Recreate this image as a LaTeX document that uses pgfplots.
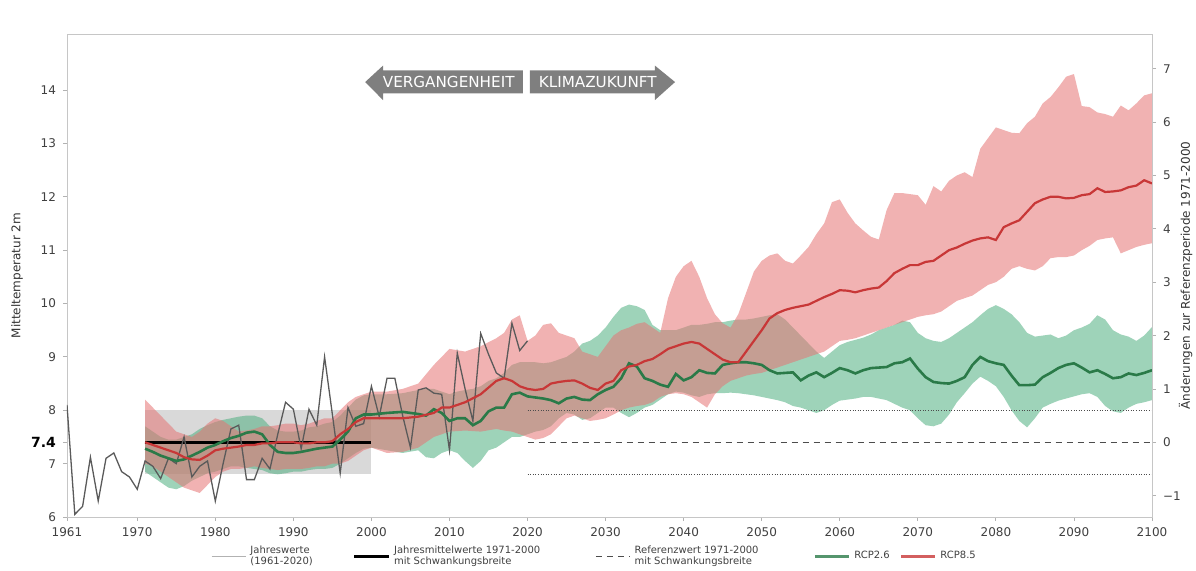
\documentclass[border=0pt]{standalone}
\usepackage{pgfplots}
\pgfplotsset{compat=1.18}
\usepackage{pgfplotstable}
\usepgfplotslibrary{fillbetween}
\usepackage{fontspec}
\setmainfont{DejaVu Sans}
\definecolor{gline}{HTML}{2A7A48}
\definecolor{gband}{HTML}{4FAF80}
\definecolor{rline}{HTML}{C83737}
\definecolor{rband}{HTML}{E57373}
\definecolor{arrowgray}{HTML}{7F7F7F}
\definecolor{annual}{HTML}{5A5A5A}

\pgfplotstableread{
year val
1961 8.10
1962 6.05
1963 6.20
1964 7.12
1965 6.30
1966 7.10
1967 7.20
1968 6.85
1969 6.75
1970 6.52
1971 7.05
1972 6.95
1973 6.72
1974 7.10
1975 7.00
1976 7.50
1977 6.75
1978 6.95
1979 7.05
1980 6.30
1981 7.00
1982 7.65
1983 7.72
1984 6.70
1985 6.70
1986 7.10
1987 6.90
1988 7.55
1989 8.15
1990 8.02
1991 7.28
1992 8.02
1993 7.72
1994 9.00
1995 7.92
1996 6.82
1997 8.05
1998 7.70
1999 7.75
2000 8.45
2001 7.88
2002 8.60
2003 8.60
2004 7.90
2005 7.30
2006 8.38
2007 8.42
2008 8.32
2009 8.30
2010 7.25
2011 9.07
2012 8.40
2013 7.80
2014 9.44
2015 9.05
2016 8.70
2017 8.60
2018 9.63
2019 9.12
2020 9.30
}\annualtab

\pgfplotstableread{
year mean lo hi
1971 7.40 7.00 8.20
1972 7.35 6.95 8.05
1973 7.30 6.85 7.90
1974 7.25 6.75 7.75
1975 7.20 6.65 7.60
1976 7.12 6.55 7.55
1977 7.08 6.50 7.50
1978 7.07 6.45 7.60
1979 7.15 6.60 7.75
1980 7.25 6.75 7.85
1981 7.28 6.85 7.80
1982 7.30 6.90 7.70
1983 7.32 6.90 7.60
1984 7.35 6.92 7.62
1985 7.35 6.95 7.65
1986 7.38 6.92 7.70
1987 7.38 6.90 7.70
1988 7.40 6.88 7.72
1989 7.40 6.90 7.75
1990 7.40 6.90 7.75
1991 7.38 6.90 7.72
1992 7.38 6.92 7.75
1993 7.40 6.95 7.80
1994 7.40 6.95 7.85
1995 7.42 7.00 7.85
1996 7.55 7.00 8.00
1997 7.65 7.05 8.15
1998 7.78 7.15 8.25
1999 7.85 7.25 8.30
2000 7.85 7.30 8.35
2002 7.85 7.20 8.35
2004 7.85 7.22 8.40
2006 7.88 7.30 8.50
2008 7.95 7.50 8.85
2009 8.05 7.55 9.00
2010 8.05 7.60 9.15
2012 8.15 7.62 9.10
2014 8.30 7.60 9.20
2016 8.55 7.65 9.35
2017 8.60 7.62 9.45
2018 8.55 7.60 9.70
2019 8.45 7.55 9.78
2020 8.40 7.50 9.30
2021 8.38 7.45 9.40
2022 8.40 7.48 9.60
2023 8.50 7.55 9.63
2024 8.53 7.70 9.45
2025 8.55 7.85 9.40
2026 8.56 7.90 9.35
2027 8.50 7.85 9.10
2028 8.42 7.80 9.05
2029 8.38 7.82 9.00
2030 8.50 7.85 9.20
2031 8.55 7.92 9.40
2032 8.75 8.00 9.50
2033 8.82 8.05 9.55
2034 8.85 8.08 9.62
2035 8.92 8.10 9.65
2036 8.96 8.15 9.55
2037 9.05 8.25 9.45
2038 9.15 8.30 10.10
2039 9.20 8.32 10.50
2040 9.25 8.30 10.70
2041 9.28 8.25 10.80
2042 9.25 8.15 10.50
2043 9.15 8.05 10.10
2044 9.05 8.30 9.80
2045 8.95 8.45 9.63
2046 8.90 8.55 9.55
2047 8.90 8.60 9.80
2048 9.10 8.65 10.20
2049 9.30 8.68 10.60
2050 9.50 8.70 10.80
2051 9.72 8.75 10.90
2052 9.82 8.80 10.94
2053 9.88 8.85 10.80
2054 9.92 8.90 10.75
2055 9.95 8.95 10.90
2056 9.98 9.00 11.06
2057 10.05 9.05 11.30
2058 10.12 9.10 11.50
2059 10.18 9.20 11.90
2060 10.25 9.30 11.95
2061 10.24 9.32 11.70
2062 10.21 9.35 11.50
2063 10.25 9.40 11.37
2064 10.28 9.45 11.25
2065 10.30 9.50 11.20
2066 10.42 9.55 11.75
2067 10.57 9.60 12.07
2068 10.65 9.65 12.07
2069 10.72 9.70 12.05
2070 10.72 9.75 12.03
2071 10.78 9.78 11.85
2072 10.80 9.80 12.20
2073 10.90 9.85 12.10
2074 11.00 9.95 12.30
2075 11.05 10.05 12.40
2076 11.12 10.10 12.46
2077 11.18 10.15 12.37
2078 11.22 10.25 12.90
2079 11.24 10.35 13.10
2080 11.19 10.40 13.30
2081 11.43 10.50 13.25
2082 11.50 10.65 13.20
2083 11.56 10.70 13.19
2084 11.72 10.65 13.38
2085 11.88 10.62 13.50
2086 11.95 10.70 13.75
2087 12.00 10.85 13.87
2088 12.00 10.87 14.05
2089 11.97 10.87 14.25
2090 11.98 10.90 14.30
2091 12.03 11.00 13.70
2092 12.05 11.08 13.68
2093 12.16 11.19 13.58
2094 12.09 11.22 13.55
2095 12.10 11.24 13.50
2096 12.12 10.94 13.71
2097 12.18 11.00 13.62
2098 12.21 11.06 13.75
2099 12.31 11.10 13.90
2100 12.25 11.13 13.94
}\rcphigh

\pgfplotstableread{
year mean lo hi
1971 7.28 6.85 7.70
1972 7.22 6.75 7.60
1973 7.15 6.65 7.50
1974 7.10 6.55 7.45
1975 7.05 6.52 7.45
1976 7.08 6.58 7.50
1977 7.15 6.68 7.55
1978 7.22 6.75 7.65
1979 7.30 6.82 7.72
1980 7.35 6.85 7.78
1981 7.42 6.90 7.82
1982 7.48 6.95 7.85
1983 7.52 6.95 7.88
1984 7.58 6.92 7.90
1985 7.60 6.90 7.90
1986 7.55 6.88 7.85
1987 7.35 6.82 7.70
1988 7.22 6.80 7.62
1989 7.20 6.82 7.60
1990 7.20 6.85 7.60
1991 7.22 6.85 7.62
1992 7.25 6.88 7.68
1993 7.28 6.90 7.70
1994 7.30 6.90 7.75
1995 7.32 6.92 7.78
1996 7.45 7.00 7.90
1997 7.60 7.10 8.05
1998 7.85 7.20 8.20
1999 7.92 7.28 8.28
2000 7.92 7.30 8.30
2002 7.95 7.25 8.30
2004 7.97 7.20 8.32
2006 7.93 7.25 8.38
2007 7.90 7.12 8.40
2008 8.02 7.10 8.40
2009 7.95 7.20 8.35
2010 7.80 7.25 8.30
2011 7.85 7.20 8.35
2012 7.85 7.05 8.38
2013 7.72 6.92 8.40
2014 7.80 7.05 8.45
2015 7.98 7.25 8.55
2016 8.05 7.30 8.60
2017 8.05 7.40 8.70
2018 8.30 7.50 8.85
2019 8.33 7.50 8.90
2020 8.26 7.55 8.90
2021 8.24 7.60 8.90
2022 8.22 7.63 8.88
2023 8.19 7.70 8.90
2024 8.13 7.85 8.95
2025 8.22 7.95 9.00
2026 8.25 7.92 9.10
2027 8.20 7.82 9.25
2028 8.19 7.85 9.30
2029 8.30 7.95 9.40
2030 8.38 8.05 9.55
2031 8.44 8.05 9.75
2032 8.60 7.95 9.92
2033 8.88 7.87 9.98
2034 8.82 7.95 9.95
2035 8.60 8.05 9.88
2036 8.55 8.10 9.60
2037 8.48 8.20 9.50
2038 8.44 8.30 9.50
2039 8.68 8.35 9.50
2040 8.56 8.33 9.55
2041 8.62 8.28 9.60
2042 8.75 8.25 9.60
2043 8.70 8.30 9.62
2044 8.69 8.32 9.65
2045 8.85 8.32 9.65
2046 8.88 8.33 9.68
2047 8.90 8.32 9.70
2048 8.90 8.30 9.70
2049 8.88 8.28 9.72
2050 8.85 8.25 9.75
2051 8.75 8.22 9.78
2052 8.69 8.19 9.80
2053 8.70 8.15 9.70
2054 8.71 8.08 9.55
2055 8.56 8.05 9.40
2056 8.65 8.00 9.25
2057 8.71 7.95 9.10
2058 8.62 8.00 8.98
2059 8.70 8.10 9.10
2060 8.79 8.18 9.22
2061 8.75 8.20 9.28
2062 8.69 8.22 9.32
2063 8.75 8.25 9.36
2064 8.79 8.25 9.42
2065 8.80 8.22 9.50
2066 8.81 8.19 9.55
2067 8.88 8.12 9.60
2068 8.90 8.05 9.68
2069 8.97 8.00 9.65
2070 8.78 7.85 9.45
2071 8.62 7.72 9.35
2072 8.53 7.70 9.30
2073 8.51 7.75 9.28
2074 8.50 7.92 9.35
2075 8.55 8.15 9.45
2076 8.62 8.32 9.55
2077 8.85 8.50 9.65
2078 9.00 8.63 9.78
2079 8.92 8.55 9.90
2080 8.88 8.45 9.97
2081 8.85 8.25 9.90
2082 8.65 8.00 9.80
2083 8.47 7.80 9.65
2084 8.47 7.68 9.45
2085 8.48 7.85 9.38
2086 8.62 8.05 9.40
2087 8.70 8.12 9.42
2088 8.79 8.18 9.35
2089 8.85 8.22 9.40
2090 8.88 8.26 9.50
2091 8.80 8.30 9.55
2092 8.71 8.32 9.62
2093 8.75 8.25 9.78
2094 8.68 8.08 9.70
2095 8.60 7.98 9.50
2096 8.62 7.95 9.42
2097 8.69 8.05 9.38
2098 8.66 8.12 9.30
2099 8.70 8.15 9.40
2100 8.75 8.19 9.56
}\rcplow

\begin{document}
\begin{tikzpicture}
\pgfplotsset{
  every axis/.append style={
    width=542.5pt, height=241.5pt, scale only axis,
    xmin=1961, xmax=2100,
    axis line style={gray!45},
    tick style={gray!60, thin},
    major tick length=2pt,
    tick align=outside,
    tick label style={font=\fontsize{6}{7}\selectfont, text=black!75},
    label style={font=\fontsize{6}{7}\selectfont, text=black!80},
  }
}
\begin{axis}[
  name=ax,
  set layers,
  ymin=6, ymax=15.05,
  xtick={1961,1970,1980,1990,2000,2010,2020,2030,2040,2050,2060,2070,2080,2090,2100},
  xticklabels={1961,1970,1980,1990,2000,2010,2020,2030,2040,2050,2060,2070,2080,2090,2100},
  ytick={6,7,8,9,10,11,12,13,14},
  yticklabels={6,7,8,9,10,11,12,13,14},
  extra y ticks={7.4},
  extra y tick labels={\textbf{7.4}},
  extra y tick style={tick label style={font=\fontsize{7}{8}\selectfont\bfseries, text=black}},
  xtick pos=bottom, ytick pos=left,
  ylabel={Mitteltemperatur 2m},
  ylabel style={at={(axis description cs:-0.046,0.5)}, anchor=center},
  legend columns=5,
  legend cell align=left,
  legend style={at={(axis description cs:0.487,-0.05)}, anchor=north, draw=none, fill=none,
    font=\fontsize{5}{5.6}\selectfont, text=black!75, inner sep=0pt,
    cells={align=left},
    /tikz/column 2/.style={column sep=18pt},
    /tikz/column 4/.style={column sep=25.5pt},
    /tikz/column 6/.style={column sep=13.5pt},
    /tikz/column 8/.style={column sep=3pt}},
]
\addlegendimage{gray!60, line width=0.7pt}
\addlegendentry{Jahreswerte\\(1961-2020)}
\addlegendimage{black, line width=1.6pt}
\addlegendentry{Jahresmittelwerte 1971-2000\\mit Schwankungsbreite}
\addlegendimage{black!70, line width=0.6pt, dash pattern=on 3pt off 2.5pt}
\addlegendentry{\makebox[74pt][l]{Referenzwert 1971-2000}\\mit Schwankungsbreite}
\addlegendimage{gline!80, line width=1.3pt}
\addlegendentry{RCP2.6}
\addlegendimage{rline!80, line width=1.3pt}
\addlegendentry{RCP8.5}

% reference box 1971-2000 (below the bands)
\addplot[forget plot, draw=none, fill=gray!30, on layer=axis background] coordinates {(1971,6.8) (2000,6.8) (2000,8.0) (1971,8.0)} -- cycle;

% bands
\addplot[forget plot, name path=glo, draw=none] table[x=year,y=lo]{\rcplow};
\addplot[forget plot, name path=ghi, draw=none] table[x=year,y=hi]{\rcplow};
\addplot[forget plot, fill=gband, fill opacity=0.55, draw=none] fill between[of=glo and ghi];
\addplot[forget plot, name path=rlo, draw=none] table[x=year,y=lo]{\rcphigh};
\addplot[forget plot, name path=rhi, draw=none] table[x=year,y=hi]{\rcphigh};
\addplot[forget plot, fill=rband, fill opacity=0.55, draw=none] fill between[of=rlo and rhi];

% reference lines
\addplot[forget plot, black, line width=1.6pt] coordinates {(1971,7.4) (2000,7.4)};
\addplot[forget plot, black!70, line width=0.6pt, dash pattern=on 3pt off 2.5pt] coordinates {(2020,7.4) (2100,7.4)};
\addplot[forget plot, black!70, line width=0.5pt, dash pattern=on 0.5pt off 0.8pt] coordinates {(2020,8.0) (2100,8.0)};
\addplot[forget plot, black!70, line width=0.5pt, dash pattern=on 0.5pt off 0.8pt] coordinates {(2020,6.8) (2100,6.8)};

% annual values
\addplot[forget plot, annual, line width=0.65pt] table[x=year,y=val]{\annualtab};

% scenario means
\addplot[forget plot, gline, line width=1.3pt] table[x=year,y=mean]{\rcplow};
\addplot[forget plot, rline, line width=1.1pt] table[x=year,y=mean]{\rcphigh};

% arrows
\fill[arrowgray] (axis cs:1999.2,14.15) -- (axis cs:2001.5,14.46) -- (axis cs:2001.5,14.37) -- (axis cs:2019.4,14.37) -- (axis cs:2019.4,13.94) -- (axis cs:2001.5,13.94) -- (axis cs:2001.5,13.81) -- cycle;
\fill[arrowgray] (axis cs:2020.3,14.37) -- (axis cs:2036.3,14.37) -- (axis cs:2036.3,14.46) -- (axis cs:2038.9,14.15) -- (axis cs:2036.3,13.81) -- (axis cs:2036.3,13.94) -- (axis cs:2020.3,13.94) -- cycle;
\node[text=white, font=\fontsize{7.6}{8}\selectfont, inner sep=0pt] at (axis cs:2009.9,14.15) {VERGANGENHEIT};
\node[text=white, font=\fontsize{7.6}{8}\selectfont, inner sep=0pt] at (axis cs:2029.0,14.15) {KLIMAZUKUNFT};

% unit labels
\node[anchor=east, font=\fontsize{5.5}{6}\selectfont, text=black!75, inner sep=0pt] at ([xshift=-5pt, yshift=4.5pt]rel axis cs:0,1) {[°C]};
\node[anchor=west, font=\fontsize{5.5}{6}\selectfont, text=black!75, inner sep=0pt] at ([xshift=4pt, yshift=4.5pt]rel axis cs:1,1) {[°C]};
\end{axis}

\begin{axis}[
  ymin=-1.4, ymax=7.65,
  hide x axis,
  axis y line*=right,
  ytick={-1,0,1,2,3,4,5,6,7},
  yticklabels={−1,0,1,2,3,4,5,6,7},
  ylabel={Änderungen zur Referenzperiode 1971-2000},
  ylabel style={at={(axis description cs:1.031,0.5)}, anchor=center},
]
\addplot[draw=none, forget plot] coordinates {(1961,0) (2100,0)};
\end{axis}

\pgfresetboundingbox
\path[use as bounding box] ([shift={(-33.5pt,-26.5pt)}]ax.south west) rectangle ([shift={(564.5pt,258.5pt)}]ax.south west);
\end{tikzpicture}
\end{document}
